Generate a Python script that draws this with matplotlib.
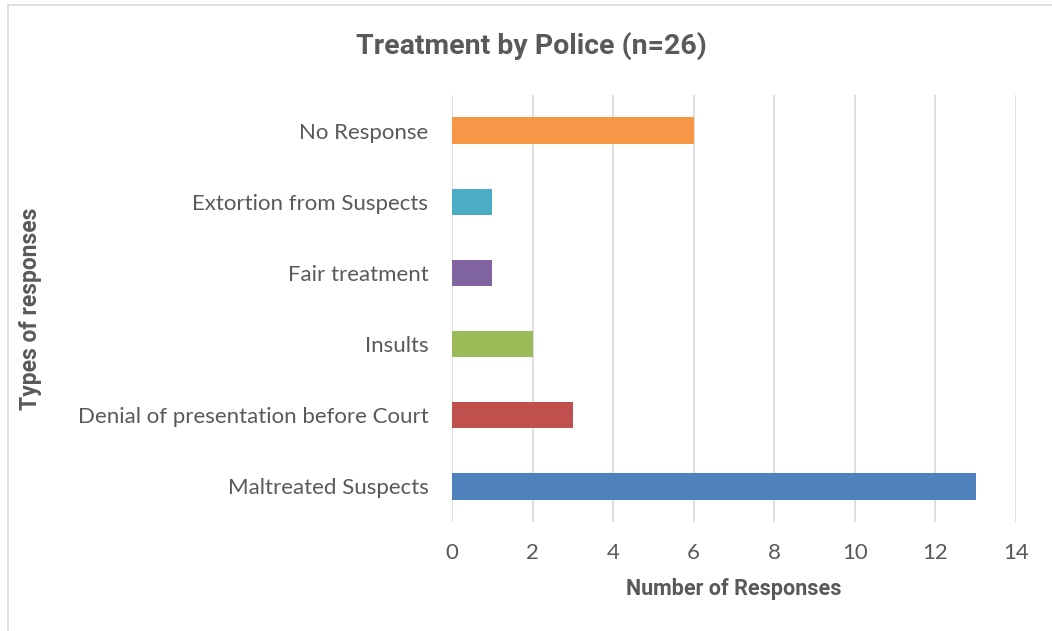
import matplotlib.pyplot as plt
from matplotlib.patches import Rectangle

categories = ["Maltreated Suspects", "Denial of presentation before Court", "Insults",
              "Fair treatment", "Extortion from Suspects", "No Response"]
values = [13, 3, 2, 1, 1, 6]
colors = ["#4F81BD", "#C0504D", "#9BBB59", "#8064A2", "#4BACC6", "#F79646"]
xticks = [0, 2, 4, 6, 8, 10, 12, 14]

fig = plt.figure(figsize=(10.52, 6.31), dpi=100)
ax = fig.add_axes([0.4297, 0.1727, 0.5361, 0.6767])

# light frame round the whole chart
fig.patches.append(Rectangle((0.008, -0.01), 1.0, 1.002, transform=fig.transFigure,
                             fill=False, edgecolor="#D9D9D9", linewidth=1.2))

ax.barh(range(len(categories)), values, height=0.37, color=colors, zorder=3)

ax.set_xlim(0, 14)
ax.set_ylim(-0.5, len(categories) - 0.5)
ax.set_xticks(xticks)
ax.set_yticks(range(len(categories)))
ax.set_yticklabels(categories)
ax.tick_params(axis="both", length=0, labelsize=16, labelcolor="#595959")
ax.tick_params(axis="x", pad=15)
ax.tick_params(axis="y", pad=17)
for lbl in ax.get_xticklabels() + ax.get_yticklabels():
    lbl.set_family(["Lato", "DejaVu Sans"])

ax.grid(axis="x", color="#D9D9D9", linewidth=1.2, zorder=0)
for s in ax.spines.values():
    s.set_visible(False)

ax.set_xlabel("Number of Responses", fontsize=15.5, fontweight="bold", color="#595959",
              family=["Roboto", "DejaVu Sans"], labelpad=11)
fig.text(0.029, 0.51, "Types of responses", rotation=90, ha="center", va="center",
         fontsize=16.5, fontweight="bold", color="#595959", family=["Roboto", "DejaVu Sans"])
fig.text(0.505, 0.928, "Treatment by Police (n=26)", ha="center", va="center",
         fontsize=20.5, fontweight="bold", color="#595959", family=["Roboto", "DejaVu Sans"])

fig.savefig("out.png", dpi=100)
